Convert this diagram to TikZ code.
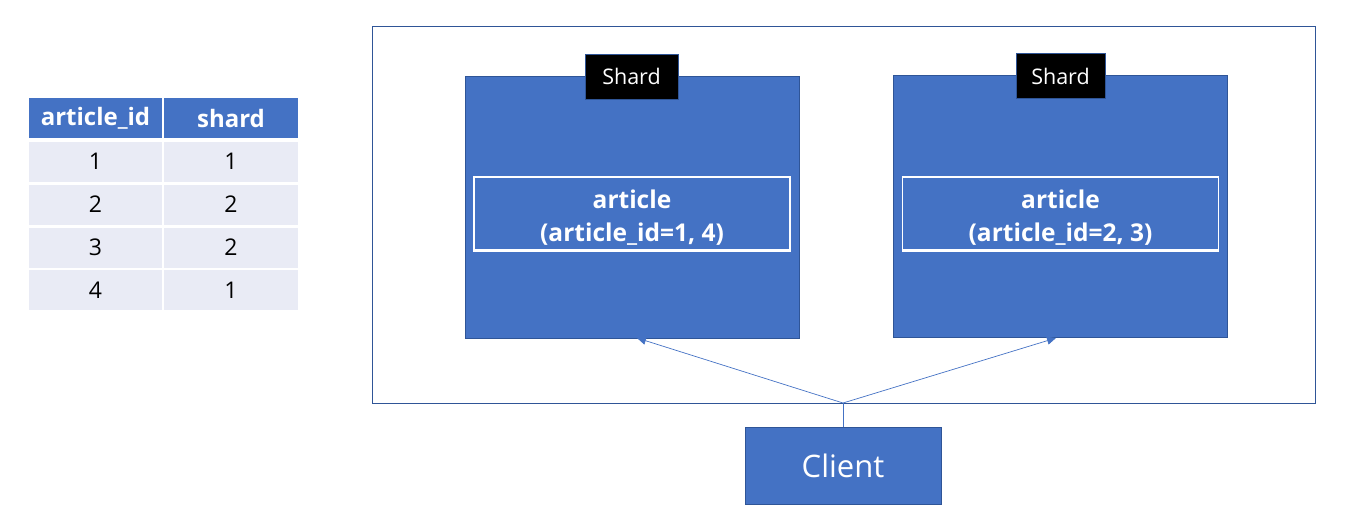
\documentclass[tikz,border=0pt]{standalone}
\usepackage{fontspec}
\setmainfont{Open Sans}
\usetikzlibrary{arrows.meta}
\definecolor{acc}{HTML}{4472C4}
\definecolor{accd}{HTML}{2F5597}
\definecolor{rowc}{HTML}{E9EBF5}
\begin{document}
\begin{tikzpicture}[x=1pt,y=-1pt,
  hdr/.style={fill=acc,text=white,font=\fontsize{24}{28}\selectfont\bfseries,minimum width=133pt,minimum height=40pt,inner sep=0pt,draw=none},
  cell/.style={fill=rowc,text=black,font=\fontsize{23}{27}\selectfont,minimum width=133pt,minimum height=40pt,inner sep=0pt,draw=none},
  shardbox/.style={fill=acc,draw=accd,line width=0.8pt,minimum width=334pt,minimum height=262pt,inner sep=0pt},
  tag/.style={fill=black,draw=accd,line width=0.6pt,text=white,font=\fontsize{21.5}{25}\selectfont,minimum height=45pt,inner sep=0pt},
  artbox/.style={draw=white,line width=1.2pt,minimum width=316pt,minimum height=73pt,inner sep=0pt},
  arttext/.style={text=white,font=\fontsize{24.5}{33}\selectfont\bfseries,align=center,inner sep=0pt},
  conn/.style={draw=acc,line width=0.7pt},
  arr/.style={conn,-{Triangle[length=9pt,width=8pt]}}
]
\useasboundingbox (0,0) rectangle (1345,528);
% table
\node[hdr] (h1) at (95.5,118) {article\_id};
\node[hdr,minimum width=134pt] (h2) at (231,118) {shard};
\node[cell] (a1) at (95.5,161.5) {1};
\node[cell,minimum width=134pt] (b1) at (231,161.5) {1};
\node[cell] (a2) at (95.5,204.5) {2};
\node[cell,minimum width=134pt] (b2) at (231,204.5) {2};
\node[cell] (a3) at (95.5,247.5) {3};
\node[cell,minimum width=134pt] (b3) at (231,247.5) {2};
\node[cell] (a4) at (95.5,290) {4};
\node[cell,minimum width=134pt] (b4) at (231,290) {1};
% outer
\node[draw=accd,line width=0.9pt,minimum width=943pt,minimum height=377pt,inner sep=0pt] (outer) at (843.5,214.5) {};
% shards
\node[shardbox] (s1) at (632,207) {};
\node[shardbox] (s2) at (1060,206.5) {};
\node[tag,minimum width=93pt] (t1) at (631.5,76.5) {Shard};
\node[tag,minimum width=89pt] (t2) at (1060.5,76) {Shard};
\node[artbox] (r1) at (632,213.5) {};
\node[artbox] (r2) at (1060.5,213.5) {};
\node[arttext] (r1t) at ([yshift=-4pt]r1.center) {article\\(article\_id=1, 4)};
\node[arttext] (r2t) at ([yshift=-4pt]r2.center) {article\\(article\_id=2, 3)};
\draw[white,line width=2.4pt] (r1.south west) -- (r1.south east);
\draw[white,line width=2.4pt] (r2.south west) -- (r2.south east);
% client
\node[fill=acc,draw=accd,line width=0.8pt,minimum width=196pt,minimum height=77pt,inner sep=0pt,text=white,font=\fontsize{31}{35}\selectfont] (cl) at (843,465.5) {\raisebox{-2pt}{Client}};
\coordinate (j) at (843,403);
\coordinate (e1) at (637,338);
\coordinate (e2) at (1056,338);
\draw[conn] (cl.north) -- (j);
\draw[arr] (j) -- (e1);
\draw[arr] (j) -- (e2);
\end{tikzpicture}
\end{document}
